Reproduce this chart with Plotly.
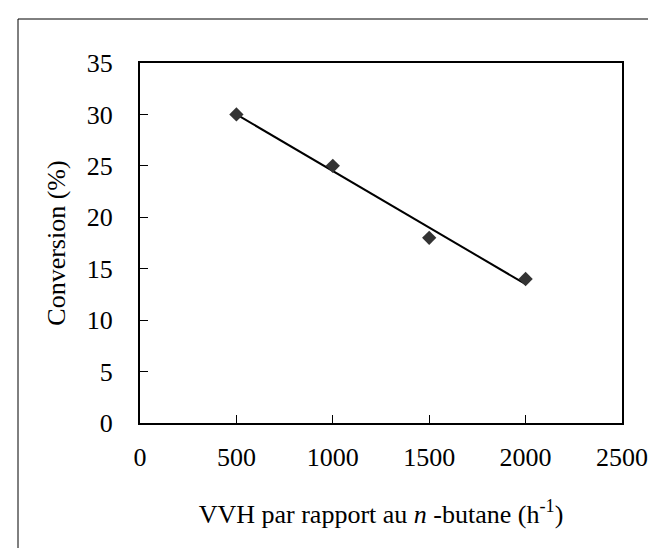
import numpy as np
import plotly.graph_objects as go

# Data
vvh = [500, 1000, 1500, 2000]          # VVH (h^-1)
conversion = [30, 25, 18, 14]          # Conversion (%)
x_ticks = [0, 500, 1000, 1500, 2000, 2500]
y_ticks = [0, 5, 10, 15, 20, 25, 30, 35]

# Linear trend line fitted to the data
slope, intercept = np.polyfit(vvh, conversion, 1)
trend_x = [min(vvh), max(vvh)]
trend_y = [slope * v + intercept for v in trend_x]

FONT = "Liberation Serif, Times New Roman, serif"

fig = go.Figure()
fig.add_trace(go.Scatter(x=trend_x, y=trend_y, mode="lines",
                         line=dict(color="black", width=2), showlegend=False))
fig.add_trace(go.Scatter(x=vvh, y=conversion, mode="markers",
                         marker=dict(symbol="diamond", size=11, color="#333333",
                                     line=dict(width=0)), showlegend=False))

fig.update_layout(
    width=656, height=548,
    margin=dict(l=132, r=42, t=55, b=133, autoexpand=False),
    paper_bgcolor="white", plot_bgcolor="white",
    font=dict(family=FONT, size=26, color="black"),
    xaxis=dict(range=[0, 2500], tickvals=x_ticks, ticks="inside", ticklen=8,
               tickwidth=1, tickcolor="black", showgrid=False, zeroline=False,
               showline=True, linecolor="black", linewidth=2, mirror=True,
               ticklabelstandoff=10,
               title=dict(text="VVH par rapport au <i>n</i> -butane (h<sup>-1</sup>)",
                          standoff=34, font=dict(size=26))),
    yaxis=dict(range=[0, 35], tickvals=y_ticks, ticks="inside", ticklen=8,
               tickwidth=1, tickcolor="black", showgrid=False, zeroline=False,
               showline=True, linecolor="black", linewidth=2, mirror=True,
               ticklabelstandoff=20,
               title=dict(text="Conversion (%)", standoff=14, font=dict(size=26))),
    shapes=[dict(type="rect", xref="paper", yref="paper",
                 x0=(10 - 132) / 482, x1=(700 - 132) / 482,
                 y0=(415 - 600) / 360, y1=(415 - 11) / 360,
                 line=dict(color="black", width=1), layer="below")],
)

fig.write_html("out.html")
